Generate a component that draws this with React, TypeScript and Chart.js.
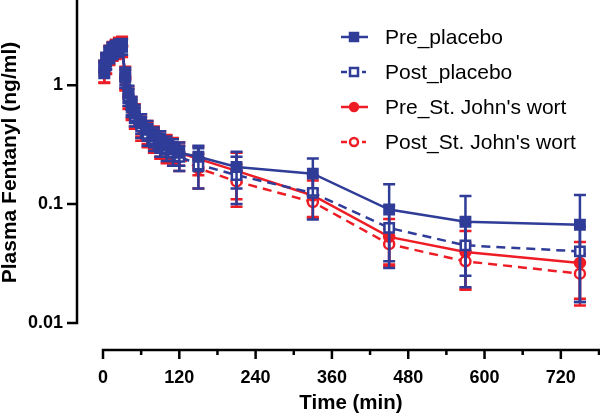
import React, { useEffect, useRef } from 'react';
import { Chart, registerables } from 'chart.js';

Chart.register(...registerables);

const times = [2, 5, 10, 15, 20, 25, 30, 35, 40, 45, 50, 60, 70, 80, 90, 100, 110, 120, 150, 210, 330, 450, 570, 750];
const seriesNames = ['Pre_placebo', 'Post_placebo', "Pre_St. John's wort", "Post_St. John's wort"];

const prePlacebo = [1.40, 1.62, 1.85, 1.98, 2.05, 2.10, 2.12, 1.20, 0.85, 0.68, 0.58, 0.48, 0.42, 0.37, 0.34, 0.31, 0.29, 0.27, 0.25, 0.205, 0.18, 0.09, 0.071, 0.067];
const prePlaceboSD = [0.2, 0.25, 0.28, 0.3, 0.3, 0.32, 0.32, 0.2, 0.14, 0.12, 0.1, 0.09, 0.08, 0.07, 0.07, 0.06, 0.06, 0.06, 0.06, 0.07, 0.062, 0.057, 0.046, 0.052];

const postPlacebo = [1.35, 1.58, 1.8, 1.95, 2.02, 2.08, 2.1, 1.15, 0.8, 0.65, 0.55, 0.45, 0.39, 0.35, 0.32, 0.29, 0.27, 0.25, 0.215, 0.175, 0.124, 0.063, 0.045, 0.040];
const postPlaceboSD = [0.2, 0.24, 0.27, 0.3, 0.3, 0.3, 0.3, 0.2, 0.13, 0.11, 0.1, 0.09, 0.08, 0.07, 0.07, 0.06, 0.06, 0.06, 0.08, 0.075, 0.05, 0.034, 0.025, 0.025];

const preSJW = [1.32, 1.55, 1.82, 1.96, 2.05, 2.12, 2.15, 1.18, 0.82, 0.66, 0.57, 0.47, 0.41, 0.37, 0.33, 0.31, 0.29, 0.27, 0.24, 0.19, 0.118, 0.053, 0.0395, 0.032];
const preSJWSD = [0.28, 0.3, 0.32, 0.34, 0.36, 0.38, 0.4, 0.25, 0.16, 0.13, 0.12, 0.1, 0.09, 0.08, 0.08, 0.07, 0.07, 0.06, 0.065, 0.08, 0.04, 0.022, 0.02, 0.016];

const postSJW = [1.30, 1.52, 1.78, 1.92, 2.0, 2.06, 2.1, 1.12, 0.78, 0.63, 0.54, 0.44, 0.39, 0.35, 0.31, 0.29, 0.27, 0.25, 0.20, 0.155, 0.104, 0.046, 0.033, 0.026];
const postSJWSD = [0.25, 0.28, 0.3, 0.32, 0.34, 0.36, 0.38, 0.22, 0.15, 0.12, 0.11, 0.1, 0.09, 0.08, 0.07, 0.07, 0.06, 0.06, 0.065, 0.06, 0.028, 0.016, 0.014, 0.012];

const xMajorTicks = [0, 120, 240, 360, 480, 600, 720];
const xMinorTicks = [60, 180, 300, 420, 540, 660, 780];
const yTicks = [0.01, 0.1, 1];
const xMin = 0;
const xMax = 780;
const yMin = 0.01;
const yMax = 5;

const BLUE = '#2f3c98';
const RED = '#ee1d25';
const FONT = "'Liberation Sans', Arial, Helvetica, sans-serif";

const means = [prePlacebo, postPlacebo, preSJW, postSJW];
const sds = [prePlaceboSD, postPlaceboSD, preSJWSD, postSJWSD];
const colors = [BLUE, BLUE, RED, RED];
const filled = [true, false, true, false];
const styles = ['rect', 'rect', 'circle', 'circle'];

const errorBarPlugin = {
  id: 'errorBars',
  beforeDatasetDraw(chart: any, args: any) {
    const i = args.index;
    const meta = args.meta;
    const ys = chart.scales.y;
    const sd = sds[i];
    const m = means[i];
    const ctx = chart.ctx;
    ctx.save();
    ctx.strokeStyle = colors[i];
    ctx.lineWidth = 2.5;
    ctx.setLineDash([]);
    meta.data.forEach((pt: any, k: number) => {
      const px = pt.x;
      const top = ys.getPixelForValue(m[k] + sd[k]);
      const lo = m[k] - sd[k];
      const bot = lo > 0 ? ys.getPixelForValue(lo) : ys.bottom;
      ctx.beginPath();
      ctx.moveTo(px, top);
      ctx.lineTo(px, bot);
      ctx.moveTo(px - 6, top);
      ctx.lineTo(px + 6, top);
      if (lo > 0) {
        ctx.moveTo(px - 6, bot);
        ctx.lineTo(px + 6, bot);
      }
      ctx.stroke();
    });
    ctx.restore();
  },
};

const axesPlugin = {
  id: 'detachedAxes',
  afterDraw(chart: any) {
    const ctx = chart.ctx;
    const xs = chart.scales.x;
    const ys = chart.scales.y;
    const area = chart.chartArea;
    const ax = area.left - 26;
    const ay = area.bottom + 27;
    ctx.save();
    ctx.strokeStyle = '#000';
    ctx.lineWidth = 2.5;
    ctx.setLineDash([]);
    ctx.lineCap = 'butt';
    ctx.beginPath();
    ctx.moveTo(ax, Math.max(0, ys.getPixelForValue(yMax) - 2));
    ctx.lineTo(ax, ys.getPixelForValue(yMin) + 1.25);
    yTicks.forEach((v) => {
      const py = ys.getPixelForValue(v);
      ctx.moveTo(ax - 10, py);
      ctx.lineTo(ax, py);
    });
    ctx.stroke();
    ctx.beginPath();
    ctx.moveTo(xs.getPixelForValue(xMin) - 1.25, ay);
    ctx.lineTo(xs.getPixelForValue(xMax) + 1.25, ay);
    xMajorTicks.forEach((v) => {
      const px = xs.getPixelForValue(v);
      ctx.moveTo(px, ay);
      ctx.lineTo(px, ay + 9);
    });
    xMinorTicks.forEach((v) => {
      const px = xs.getPixelForValue(v);
      ctx.moveTo(px, ay);
      ctx.lineTo(px, ay + 5);
    });
    ctx.stroke();
    ctx.restore();
  },
};

const legendPlugin = {
  id: 'customLegend',
  afterDraw(chart: any) {
    const ctx = chart.ctx;
    ctx.save();
    seriesNames.forEach((name, i) => {
      const cy = 37 + 35 * i;
      const cx = 354;
      ctx.strokeStyle = colors[i];
      ctx.lineWidth = 2.5;
      ctx.setLineDash([]);
      ctx.beginPath();
      if (filled[i]) {
        ctx.moveTo(341, cy);
        ctx.lineTo(368, cy);
      } else {
        ctx.moveTo(341, cy);
        ctx.lineTo(347, cy);
        ctx.moveTo(362, cy);
        ctx.lineTo(366, cy);
      }
      ctx.stroke();
      ctx.fillStyle = filled[i] ? colors[i] : '#fff';
      ctx.beginPath();
      if (styles[i] === 'rect') {
        ctx.rect(cx - 4, cy - 4, 8, 8);
      } else {
        ctx.arc(cx, cy, 4, 0, Math.PI * 2);
      }
      ctx.fill();
      ctx.stroke();
      ctx.fillStyle = '#000';
      ctx.font = `21px ${FONT}`;
      ctx.textAlign = 'left';
      ctx.textBaseline = 'middle';
      ctx.fillText(name, 385, cy + 1);
    });
    ctx.restore();
  },
};

const zeroPad = (s: any) => {
  s.paddingTop = 0;
  s.paddingBottom = 0;
  s.paddingLeft = 0;
  s.paddingRight = 0;
};

export default function App() {
  const ref = useRef<HTMLCanvasElement | null>(null);

  useEffect(() => {
    if (!ref.current) return;
    const datasets = seriesNames.map((name, i) => ({
      label: name,
      data: times.map((t, k) => ({ x: t, y: means[i][k] })),
      borderColor: colors[i],
      backgroundColor: colors[i],
      borderWidth: 2.5,
      borderDash: filled[i] ? [] : [9, 6],
      pointStyle: styles[i],
      pointRadius: styles[i] === 'rect' ? 6.6 : 5,
      pointBorderWidth: 2.5,
      pointBackgroundColor: filled[i] ? colors[i] : '#ffffff',
      pointBorderColor: colors[i],
      tension: 0,
      fill: false,
      clip: false,
    }));

    const chart = new Chart(ref.current, {
      type: 'line',
      data: { datasets },
      plugins: [errorBarPlugin, axesPlugin, legendPlugin],
      options: {
        animation: false,
        responsive: false,
        events: [],
        layout: { autoPadding: false, padding: { top: 2, right: 1, left: 0, bottom: 0 } },
        plugins: {
          legend: { display: false },
          tooltip: { enabled: false },
        },
        scales: {
          x: {
            type: 'linear',
            min: xMin,
            max: xMax,
            grid: { display: false, drawTicks: true, tickLength: 44 },
            border: { display: false },
            afterBuildTicks: (s: any) => {
              s.ticks = xMajorTicks.map((v) => ({ value: v }));
            },
            afterFit: (s: any) => {
              s.height = 94;
              zeroPad(s);
            },
            ticks: {
              padding: 0,
              color: '#000',
              font: { family: FONT, size: 18, weight: 'bold' },
              maxRotation: 0,
              autoSkip: false,
              callback: (v: any) => String(v),
            },
            title: {
              display: true,
              text: 'Time (min)',
              color: '#000',
              font: { family: FONT, size: 20.5, weight: 'bold' },
              padding: { top: 0, bottom: 1 },
            },
          },
          y: {
            type: 'logarithmic',
            min: yMin,
            max: yMax,
            grid: { display: false, drawTicks: true, tickLength: 40 },
            border: { display: false },
            afterBuildTicks: (s: any) => {
              s.ticks = yTicks.map((v) => ({ value: v }));
            },
            afterFit: (s: any) => {
              s.width = 103;
              zeroPad(s);
            },
            ticks: {
              padding: 0,
              color: '#000',
              font: { family: FONT, size: 18, weight: 'bold' },
              autoSkip: false,
              callback: (v: any) => String(v),
            },
            title: {
              display: true,
              text: 'Plasma Fentanyl (ng/ml)',
              color: '#000',
              font: { family: FONT, size: 21, weight: 'bold', lineHeight: 1 },
              padding: { top: 0, bottom: 0 },
            },
          },
        },
      } as any,
    });
    return () => chart.destroy();
  }, []);

  return (
    <div style={{ position: 'absolute', left: 0, top: 0, width: 600, height: 417, background: '#fff' }}>
      <canvas ref={ref} width={600} height={417} style={{ display: 'block' }} />
    </div>
  );
}
